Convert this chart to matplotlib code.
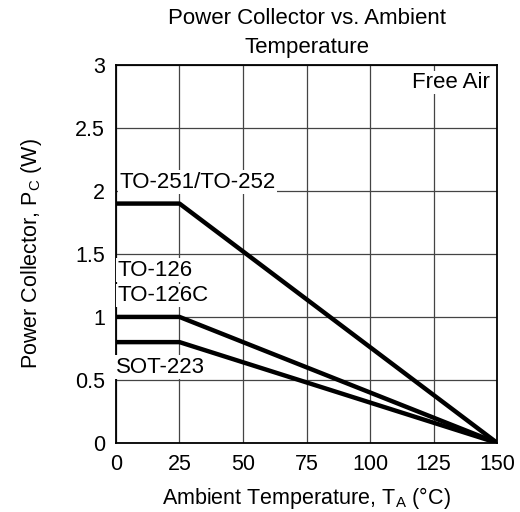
import matplotlib.pyplot as plt

plt.rcParams['font.family'] = ['Liberation Sans', 'DejaVu Sans']

# derating curves (temperature in C, power in W)
temps = [0, 25, 150]
to251 = [1.9, 1.9, 0.0]
to126 = [1.0, 1.0, 0.0]
sot223 = [0.8, 0.8, 0.0]

x_ticks = [0, 25, 50, 75, 100, 125, 150]
y_ticks = [0, 0.5, 1, 1.5, 2, 2.5, 3]
y_labels = ["0", "0.5", "1", "1.5", "2", "2.5", "3"]

fig = plt.figure(figsize=(5.2, 5.12), dpi=100)
ax = fig.add_axes([0.223, 0.135, 0.733, 0.738])

for series in (to251, to126, sot223):
    ax.plot(temps, series, color='black', lw=3.2, solid_capstyle='butt', zorder=4)

ax.set_xlim(0, 150)
ax.set_ylim(0, 3)
ax.set_xticks(x_ticks)
ax.set_yticks(y_ticks)
ax.set_yticklabels(y_labels)
ax.tick_params(length=0, labelsize=15.5, pad=8)
ax.grid(True, color='#444444', lw=0.9)
ax.set_axisbelow(True)
for sp in ax.spines.values():
    sp.set_linewidth(1.3)

box = dict(facecolor='white', edgecolor='none', pad=1)
ax.text(1.5, 2.07, "TO-251/TO-252", fontsize=16, va='center', ha='left', bbox=box, zorder=3)
ax.text(0.5, 1.37, "TO-126", fontsize=16, va='center', ha='left', bbox=box, zorder=3)
ax.text(0.5, 1.17, "TO-126C", fontsize=16, va='center', ha='left', bbox=box, zorder=3)
ax.text(0.2, 0.60, "SOT-223", fontsize=16, va='center', ha='left', bbox=box, zorder=3)
ax.text(147, 2.86, "Free Air", fontsize=16, va='center', ha='right', bbox=box, zorder=3)

ax.set_title("Power Collector vs. Ambient\nTemperature", fontsize=16, pad=9, linespacing=1.45)
ax.set_xlabel(r"Ambient Temperature, T$_\mathregular{A}$ (°C)", fontsize=15.5, labelpad=7)
ax.set_ylabel(r"Power Collector, P$_\mathregular{C}$ (W)", fontsize=15.5, labelpad=22)

fig.savefig("out.png", dpi=100)
